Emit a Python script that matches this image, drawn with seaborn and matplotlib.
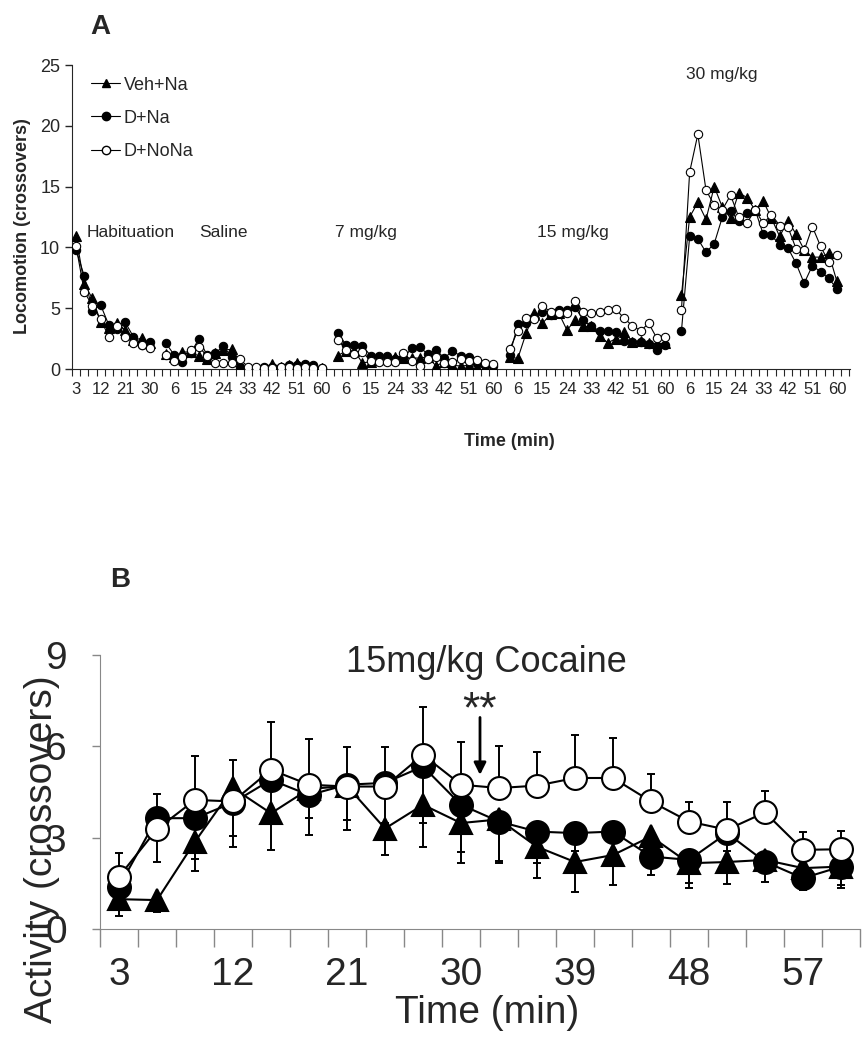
import numpy as np
import pandas as pd
import seaborn as sns
import matplotlib.pyplot as plt
from matplotlib.lines import Line2D

### Panel A data: mean crossovers per 3-min bin, each session
hab_min = [3, 6, 9, 12, 15, 18, 21, 24, 27, 30]
sess_min = [3, 6, 9, 12, 15, 18, 21, 24, 27, 30,
            33, 36, 39, 42, 45, 48, 51, 54, 57, 60]
sessions = ['Habituation', 'Saline', '7 mg/kg', '15 mg/kg', '30 mg/kg']
groups = ['Veh+Na', 'D+Na', 'D+NoNa']

veh_hab = [10.9, 6.96, 5.8, 3.9, 3.34, 3.8, 3.2, 2.38, 2.52, 2.1]
dna_hab = [9.8, 7.64, 4.8, 5.26, 3.62, 3.3, 3.84, 2.66, 2.0, 2.25]
dnona_hab = [10.1, 6.36, 5.18, 4.08, 2.66, 3.53, 2.66, 2.16, 1.97, 1.75]

veh_sal = [1.2, 1.0, 1.4, 1.4, 1.07, 0.8, 1.34, 1.56, 1.62, 0.05,
           0.1, 0.05, 0.1, 0.4, 0.2, 0.3, 0.5, 0.3, 0.2, 0.1]
dna_sal = [2.1, 1.15, 0.6, 1.3, 2.47, 1.15, 1.29, 1.89, 1.0, 0.2,
           0.1, 0.1, 0.2, 0.2, 0.2, 0.3, 0.3, 0.4, 0.3, 0.1]
dnona_sal = [1.15, 0.68, 1.0, 1.56, 1.84, 1.07, 0.52, 0.52, 0.52, 0.8,
             0.2, 0.2, 0.05, 0.1, 0.15, 0.2, 0.05, 0.2, 0.05, 0.05]

veh_7 = [1.1, 1.5, 1.5, 0.5, 0.6, 0.8, 0.8, 1.0, 0.9, 0.9,
         0.9, 1.0, 0.25, 0.6, 0.3, 0.25, 0.3, 0.2, 0.1, 0.1]
dna_7 = [3.0, 1.97, 1.97, 1.9, 1.1, 1.1, 1.1, 0.8, 0.88, 1.7,
         1.78, 1.23, 1.6, 0.88, 1.5, 1.07, 1.0, 0.5, 0.33, 0.25]
dnona_7 = [2.38, 1.6, 1.23, 1.42, 0.66, 0.6, 0.6, 0.6, 1.34, 0.66,
           0.25, 0.8, 1.0, 0.5, 0.6, 0.8, 0.66, 0.74, 0.52, 0.4]

veh_15 = [0.96, 0.88, 2.93, 4.58, 3.75, 4.5, 4.6, 3.2, 4.0, 3.5,
          3.5, 2.7, 2.16, 2.5, 3.07, 2.25, 2.33, 2.1, 2.1, 2.1]
dna_15 = [1.15, 3.67, 3.75, 4.3, 4.7, 4.44, 4.85, 4.85, 5.1, 4.0,
          3.5, 3.15, 3.15, 3.07, 2.33, 2.25, 2.2, 2.05, 1.56, 1.97]
dnona_15 = [1.62, 3.15, 4.22, 4.08, 5.2, 4.7, 4.58, 4.58, 5.6, 4.66,
            4.58, 4.66, 4.85, 4.9, 4.16, 3.56, 3.15, 3.75, 2.52, 2.6]

veh_30 = [6.1, 12.5, 13.7, 12.3, 15.0, 13.3, 12.4, 14.5, 14.1, 13.07,
          13.8, 12.4, 10.9, 12.2, 11.1, 9.8, 9.2, 9.2, 9.5, 7.2]
dna_30 = [3.15, 10.9, 10.7, 9.6, 10.3, 12.5, 13.0, 12.2, 12.8, 13.1,
          11.07, 11.0, 10.2, 9.97, 8.7, 7.05, 8.5, 8.0, 7.45, 6.6]
dnona_30 = [4.88, 16.2, 19.3, 14.7, 13.5, 13.1, 14.3, 12.5, 12.0, 13.1,
            11.97, 12.7, 11.8, 11.7, 9.9, 9.75, 11.7, 10.1, 8.8, 9.4]

### Panel B data: 15 mg/kg cocaine session, mean +/- SEM
t_b = [3, 6, 9, 12, 15, 18, 21, 24, 27, 30,
       33, 36, 39, 42, 45, 48, 51, 54, 57, 60]
b_ticks = [3, 12, 21, 30, 39, 48, 57]
veh_b = [0.98, 0.95, 2.87, 4.63, 3.8, 4.6, 4.7, 3.3, 4.08, 3.48,
         3.6, 2.7, 2.2, 2.43, 3.04, 2.16, 2.2, 2.27, 2.0, 2.05]
dna_b = [1.39, 3.64, 3.64, 4.15, 4.9, 4.4, 4.74, 4.8, 5.34, 4.08,
         3.53, 3.2, 3.15, 3.2, 2.38, 2.27, 3.15, 2.21, 1.67, 2.05]
dnona_b = [1.72, 3.28, 4.24, 4.19, 5.23, 4.74, 4.68, 4.68, 5.72, 4.74,
           4.63, 4.71, 4.96, 4.96, 4.19, 3.53, 3.26, 3.83, 2.6, 2.62]
veh_sem = [0.55, 0.38, 0.98, 1.93, 1.2, 1.5, 1.45, 0.87, 1.38, 1.3,
           1.42, 1.03, 1.0, 1.0, 0.5, 0.82, 0.72, 0.4, 0.3, 0.71]
dna_sem = [0.5, 1.43, 1.35, 1.09, 1.42, 0.76, 1.15, 1.32, 1.86, 1.54,
           1.28, 1.04, 0.6, 0.6, 0.6, 0.77, 0.6, 0.67, 0.4, 0.6]
dnona_sem = [0.77, 1.16, 1.43, 1.35, 1.56, 1.51, 1.3, 1.3, 1.57, 1.4,
             1.39, 1.12, 1.42, 1.31, 0.91, 0.63, 0.9, 0.69, 0.6, 0.6]

# long table for panel A, one empty category between sessions
vals = {
    'Veh+Na': [veh_hab, veh_sal, veh_7, veh_15, veh_30],
    'D+Na': [dna_hab, dna_sal, dna_7, dna_15, dna_30],
    'D+NoNa': [dnona_hab, dnona_sal, dnona_7, dnona_15, dnona_30],
}
times = [hab_min] + [sess_min] * 4
rows = []
start = 0
for s, sess in enumerate(sessions):
    for g in groups:
        for i, v in enumerate(vals[g][s]):
            rows.append({'cat': start + i, 'min': times[s][i],
                         'val': v, 'group': g, 'session': sess})
    start += len(times[s]) + 1
df_a = pd.DataFrame(rows)
n_cat = start - 1

df_b = pd.DataFrame({'t': t_b * 3, 'val': veh_b + dna_b + dnona_b,
                     'group': np.repeat(groups, len(t_b))})
df_b['idx'] = df_b['t'].map({t: i for i, t in enumerate(t_b)})

sns.set_style('ticks')
plt.rcParams['font.family'] = ['Liberation Sans', 'DejaVu Sans']
NARROW = ['Liberation Sans Narrow', 'Liberation Sans', 'DejaVu Sans']

styles = {'Veh+Na': ('^', 'black'), 'D+Na': ('o', 'black'),
          'D+NoNa': ('o', 'white')}

fig = plt.figure(figsize=(8.67, 10.5), dpi=100)

#############
### A ###
#############
ax_a = fig.add_axes([72 / 867, 1 - 369 / 1050, 778 / 867, 304 / 1050])
for z, g in enumerate(groups):
    mk, fc = styles[g]
    sns.lineplot(data=df_a[df_a.group == g], x='cat', y='val', units='session',
                 estimator=None, color='black', marker=mk, markerfacecolor=fc,
                 markeredgecolor='black', markeredgewidth=0.8,
                 markersize=6.5 if mk == '^' else 6, lw=0.8, ax=ax_a,
                 zorder=3 + z, legend=False)
ax_a.set_xlim(-0.5, n_cat + 0.6)
ax_a.set_ylim(0, 25)
ax_a.set_yticks([0, 5, 10, 15, 20, 25])
ax_a.tick_params(axis='y', labelsize=13, length=5, width=1, direction='out')
lab_pos = [c for c in range(0, n_cat + 1, 3)]
cat_min = dict(zip(df_a['cat'], df_a['min']))
ax_a.set_xticks(lab_pos)
ax_a.set_xticklabels([str(cat_min.get(c, '')) for c in lab_pos],
                     fontfamily=NARROW, fontsize=12)
ax_a.set_xticks(np.arange(-0.5, n_cat + 1, 1), minor=True)
ax_a.tick_params(axis='x', which='major', length=0, pad=9)
ax_a.tick_params(axis='x', which='minor', length=5, width=0.8)
for side in ['top', 'right']:
    ax_a.spines[side].set_visible(False)
ax_a.set_ylabel('Locomotion (crossovers)', fontsize=13, fontweight='bold')
ax_a.yaxis.set_label_coords(-0.064, 0.47)
ax_a.yaxis.label.set_va('center')
ax_a.set_xlabel('Time (min)', fontsize=13, fontweight='bold')
ax_a.xaxis.set_label_coords(0.562, -0.21)

for sess, cx, cy in [('Habituation', 1.3, 11.2), ('Saline', 15.1, 11.2),
                     ('7 mg/kg', 31.7, 11.2), ('15 mg/kg', 56.4, 11.2),
                     ('30 mg/kg', 74.5, 24.2)]:
    ax_a.text(cx, cy, sess, fontsize=12.5, va='center', ha='left')

handles = [Line2D([], [], color='black', lw=0.8, marker=styles[g][0],
                  markerfacecolor=styles[g][1], markeredgecolor='black',
                  markersize=6) for g in groups]
ax_a.legend(handles, groups, loc='upper left', frameon=False, fontsize=13,
            bbox_to_anchor=(0.025, 0.962), borderaxespad=0, borderpad=0,
            handlelength=1.6, handletextpad=0.2, labelspacing=0.9)
fig.text(100 / 867, 1 - 27 / 1050, 'A', fontsize=20, fontweight='bold',
         ha='center', va='center')

#############
### B ###
#############
ax_b = fig.add_axes([100 / 867, 1 - 929 / 1050, 760 / 867, 274 / 1050])
sems = {'Veh+Na': (veh_sem, 'down'), 'D+Na': (dna_sem, 'down'),
        'D+NoNa': (dnona_sem, 'up')}
for z, g in enumerate(groups):
    mk, fc = styles[g]
    sub = df_b[df_b.group == g]
    err, way = sems[g]
    yerr = [err, [0] * len(err)] if way == 'down' else [[0] * len(err), err]
    ax_b.errorbar(sub['idx'], sub['val'], yerr=yerr, fmt='none',
                  ecolor='black', elinewidth=1.4, capsize=3, capthick=1.4,
                  zorder=2 + 2 * z)
    sns.lineplot(data=sub, x='idx', y='val', estimator=None, color='black',
                 marker=mk, markerfacecolor=fc, markeredgecolor='black',
                 markeredgewidth=1.5, markersize=16 if mk == '^' else 16.5,
                 lw=1.5, ax=ax_b, zorder=3 + 2 * z, legend=False)
ax_b.set_xlim(-0.5, len(t_b) - 0.5)
ax_b.set_ylim(0, 9)
ax_b.set_yticks([0, 3, 6, 9])
ax_b.set_yticklabels(['0', '3', '6', '9'], fontfamily=NARROW, fontsize=28)
ax_b.tick_params(axis='y', length=6, width=1, color='#888888', pad=18)
ax_b.set_xticks([t_b.index(t) for t in b_ticks])
ax_b.set_xticklabels([str(t) for t in b_ticks], fontfamily=NARROW,
                     fontsize=28)
ax_b.set_xticks(np.arange(-0.5, len(t_b), 1), minor=True)
ax_b.tick_params(axis='x', which='major', length=0, pad=20)
ax_b.tick_params(axis='x', which='minor', length=13, width=1,
                 color='#888888')
for side in ['top', 'right']:
    ax_b.spines[side].set_visible(False)
for side in ['left', 'bottom']:
    ax_b.spines[side].set_color('#888888')
ax_b.set_xlabel('Time (min)', fontfamily=NARROW, fontsize=28)
ax_b.xaxis.set_label_coords(0.509, -0.307)
ax_b.xaxis.label.set_va('center')
ax_b.set_ylabel('Activity (crossovers)', fontfamily=NARROW, fontsize=28)
ax_b.yaxis.set_label_coords(-0.076, 0.29)
ax_b.yaxis.label.set_va('center')
ax_b.text(0.509, 0.974, '15mg/kg Cocaine', transform=ax_b.transAxes,
          fontfamily=NARROW, fontsize=26, ha='center', va='center')
ax_b.annotate('', xy=(9.5, 4.97), xytext=(9.5, 7.04),
              arrowprops=dict(arrowstyle='-|>', color='black', lw=2,
                              mutation_scale=18))
ax_b.text(9.5, 7.15, '**', fontsize=32, ha='center', va='center')
fig.text(120 / 867, 1 - 580 / 1050, 'B', fontsize=20, fontweight='bold',
         ha='center', va='center')

fig.savefig('out.png', dpi=100)
